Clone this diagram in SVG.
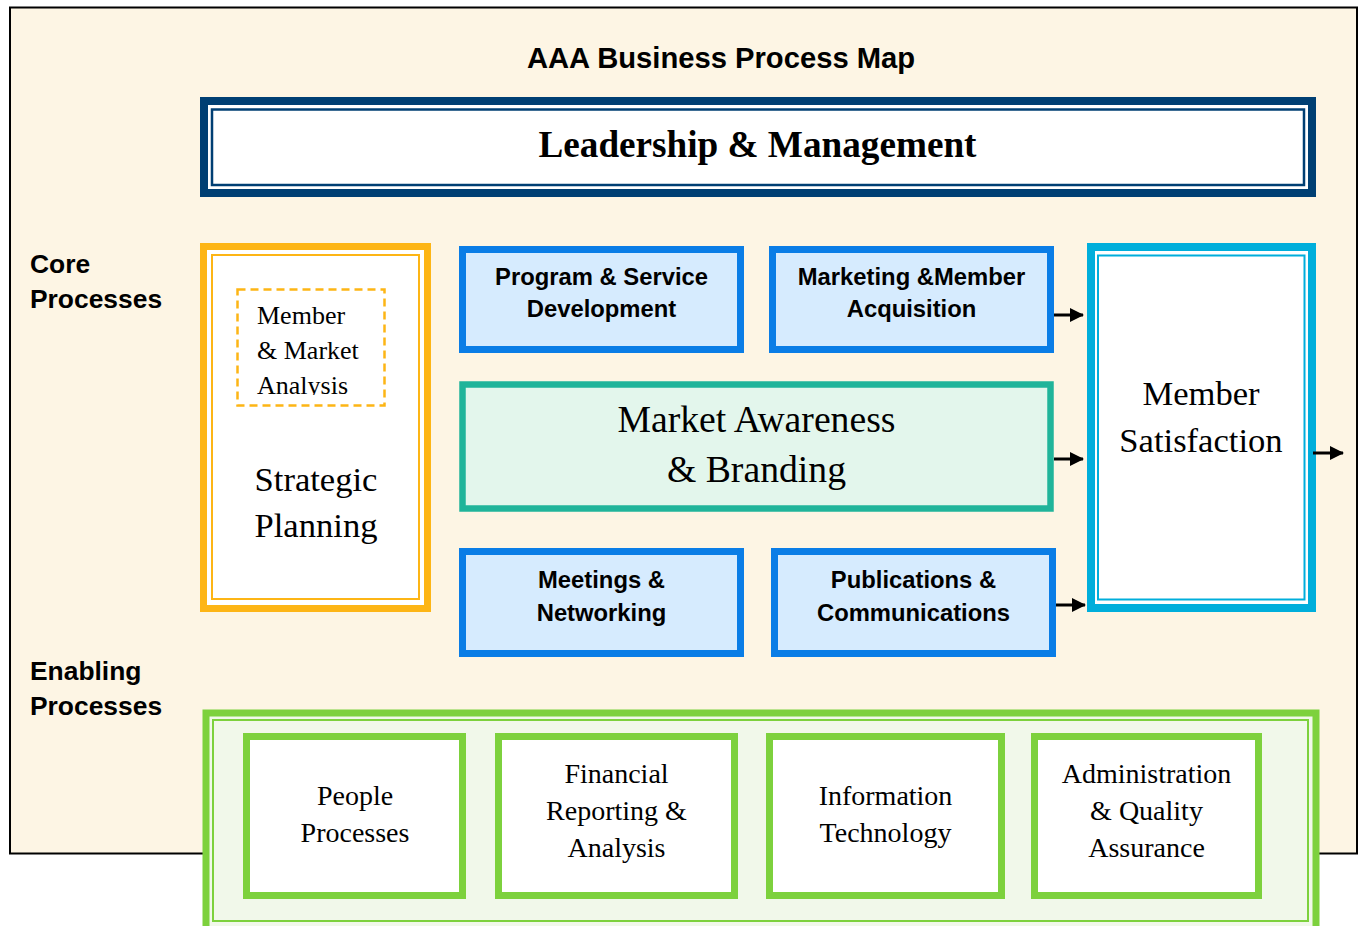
<svg xmlns="http://www.w3.org/2000/svg" width="1363" height="926" viewBox="0 0 1363 926">
<style>
.sans{font-family:"Liberation Sans",Arial,sans-serif;font-weight:bold;fill:#000}
.serif{font-family:"Liberation Serif","Times New Roman",serif;fill:#000}
.blue{fill:#D6EBFE;stroke:#0A7DE6;stroke-width:7}
.green{fill:#fff;stroke:#7DD13D;stroke-width:7}
.conn{stroke:#000;stroke-width:3;fill:none;marker-end:url(#arr)}
</style>
<defs>
<marker id="arr" viewBox="0 0 14 14" refX="13" refY="7" markerWidth="14" markerHeight="14" markerUnits="userSpaceOnUse" orient="auto">
<path d="M0,0 L14,7 L0,14 z" fill="#000"/>
</marker>
<clipPath id="clipMM"><rect x="236" y="288" width="150" height="107"/></clipPath>
</defs>
<rect x="0" y="0" width="1363" height="926" fill="#fff"/>
<rect x="10" y="7.5" width="1347" height="846" fill="#FDF5E4" stroke="#000" stroke-width="2"/>
<text class="sans" x="721" y="68" font-size="29.2" text-anchor="middle">AAA Business Process Map</text>

<g id="leadership">
<rect x="204" y="101" width="1108" height="92" fill="#fff" stroke="#003F73" stroke-width="8"/>
<rect x="212" y="109.5" width="1092" height="75.5" fill="none" stroke="#003F73" stroke-width="2.5"/>
<text class="serif" x="757.5" y="157" font-size="37.2" font-weight="bold" text-anchor="middle">Leadership &amp; Management</text>
</g>

<g id="labels">
<text class="sans" font-size="26.4"><tspan x="30" y="273">Core</tspan><tspan x="30" y="308">Processes</tspan></text>
<text class="sans" font-size="26.4"><tspan x="30" y="680">Enabling</tspan><tspan x="30" y="715">Processes</tspan></text>
</g>

<g id="strategic">
<rect x="203.5" y="246.5" width="224" height="362" fill="#fff" stroke="#FDB515" stroke-width="7"/>
<rect x="212" y="255" width="207" height="344" fill="none" stroke="#FDB515" stroke-width="2"/>
<rect x="237.5" y="289.5" width="147" height="116" fill="none" stroke="#FDB515" stroke-width="2.5" stroke-dasharray="8,5"/>
<g clip-path="url(#clipMM)">
<text class="serif" font-size="26"><tspan x="257" y="324">Member</tspan><tspan x="257" y="359">&amp; Market</tspan><tspan x="257" y="394">Analysis</tspan></text>
</g>
<text class="serif" font-size="34.6" text-anchor="middle"><tspan x="316" y="491">Strategic</tspan><tspan x="316" y="537">Planning</tspan></text>
</g>

<g id="program">
<rect class="blue" x="462.5" y="249.5" width="278" height="100"/>
<text class="sans" font-size="23.8" text-anchor="middle"><tspan x="601.5" y="285">Program &amp; Service</tspan><tspan x="601.5" y="317">Development</tspan></text>
</g>
<g id="marketing">
<rect class="blue" x="772.5" y="249.5" width="278" height="100"/>
<text class="sans" font-size="23.8" text-anchor="middle"><tspan x="911.5" y="285">Marketing &amp;Member</tspan><tspan x="911.5" y="317">Acquisition</tspan></text>
</g>
<g id="awareness">
<rect x="462.5" y="384.5" width="588" height="124" fill="#E3F6EC" stroke="#20B49A" stroke-width="6.5"/>
<text class="serif" font-size="37.7" text-anchor="middle"><tspan x="756.5" y="432">Market Awareness</tspan><tspan x="756.5" y="482">&amp; Branding</tspan></text>
</g>
<g id="meetings">
<rect class="blue" x="462.5" y="551.5" width="278" height="102"/>
<text class="sans" font-size="23.8" text-anchor="middle"><tspan x="601.5" y="588">Meetings &amp;</tspan><tspan x="601.5" y="621">Networking</tspan></text>
</g>
<g id="publications">
<rect class="blue" x="774.5" y="551.5" width="278" height="102"/>
<text class="sans" font-size="23.8" text-anchor="middle"><tspan x="913.5" y="588">Publications &amp;</tspan><tspan x="913.5" y="621">Communications</tspan></text>
</g>

<g id="satisfaction">
<rect x="1091" y="247" width="221" height="361" fill="#fff" stroke="#00AEDB" stroke-width="8"/>
<rect x="1098" y="255.5" width="206.5" height="344" fill="none" stroke="#00AEDB" stroke-width="2"/>
<text class="serif" font-size="34.6" text-anchor="middle"><tspan x="1201" y="405">Member</tspan><tspan x="1201" y="452">Satisfaction</tspan></text>
</g>

<g id="connectors">
<line class="conn" x1="1054" y1="315" x2="1083" y2="315"/>
<line class="conn" x1="1054" y1="459" x2="1083" y2="459"/>
<line class="conn" x1="1056" y1="605" x2="1085" y2="605"/>
<line class="conn" x1="1313" y1="453" x2="1343" y2="453"/>
</g>

<g id="enabling">
<rect x="206" y="713" width="1110" height="232" fill="#F1F8EA" stroke="#7DD13D" stroke-width="7"/>
<rect x="213" y="720" width="1095" height="201" fill="none" stroke="#7DD13D" stroke-width="2"/>
</g>
<g id="people">
<rect class="green" x="246.5" y="736.5" width="216" height="159"/>
<text class="serif" font-size="28" text-anchor="middle"><tspan x="355" y="805">People</tspan><tspan x="355" y="842">Processes</tspan></text>
</g>
<g id="financial">
<rect class="green" x="498.5" y="736.5" width="236" height="159"/>
<text class="serif" font-size="28" text-anchor="middle"><tspan x="616.5" y="783">Financial</tspan><tspan x="616.5" y="820">Reporting &amp;</tspan><tspan x="616.5" y="857">Analysis</tspan></text>
</g>
<g id="it">
<rect class="green" x="769.5" y="736.5" width="232" height="159"/>
<text class="serif" font-size="28" text-anchor="middle"><tspan x="885.5" y="805">Information</tspan><tspan x="885.5" y="842">Technology</tspan></text>
</g>
<g id="admin">
<rect class="green" x="1034.5" y="736.5" width="224" height="159"/>
<text class="serif" font-size="28" text-anchor="middle"><tspan x="1146.5" y="783">Administration</tspan><tspan x="1146.5" y="820">&amp; Quality</tspan><tspan x="1146.5" y="857">Assurance</tspan></text>
</g>
</svg>
